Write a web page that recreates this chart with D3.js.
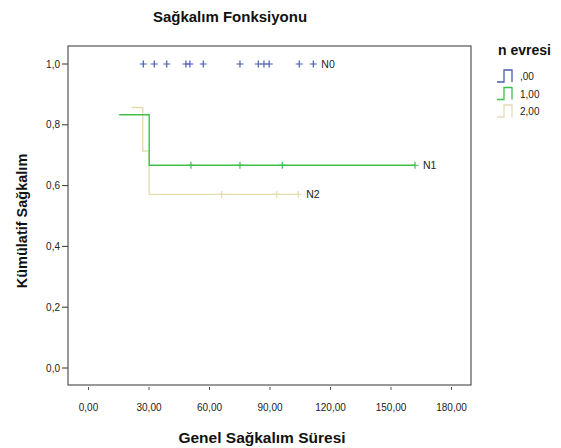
<!DOCTYPE html>
<html><head><meta charset="utf-8">
<script src="https://cdn.jsdelivr.net/npm/d3@7"></script>
<style>body{margin:0;background:#fff}svg{display:block}text{font-family:"Liberation Sans",Arial,sans-serif}</style>
</head><body><svg id="c" width="561" height="448"></svg>
<script>
const groups = [",00", "1,00", "2,00"];
const groupLabels = ["N0", "N1", "N2"];
const colors = ["#4a5cb0", "#3fbf4a", "#e6dcb4"];
// Kaplan-Meier steps (event time, survival after event)
const stepTimes = [[], [15.2, 30.1], [21.4, 26.9, 30.1]];
const stepSurv = [[], [0.833, 0.667], [0.857, 0.714, 0.571]];
const censorTimes = [
  [27.2, 32.6, 38.8, 48.3, 50.3, 56.9, 75.1, 84.2, 87.0, 89.6, 104.5, 111.5],
  [50.8, 75.1, 96.1, 161.9],
  [66.0, 93.3, 104.0]
];
const xTicks = [0, 30, 60, 90, 120, 150, 180];
const yTicks = [0, 0.2, 0.4, 0.6, 0.8, 1.0];
const fmt2 = d => d.toFixed(2).replace(".", ",");
const fmt1 = d => d.toFixed(1).replace(".", ",");

const svg = d3.select("#c");
const box = {l: 68, t: 46, r: 471, b: 385};
const x = d3.scaleLinear().domain([0, 180]).range([88.5, 451.5]);
const y = d3.scaleLinear().domain([0, 1]).range([368, 64]);

svg.append("text").attr("x", 230).attr("y", 22).attr("text-anchor", "middle")
  .attr("font-size", 15).attr("font-weight", "bold").attr("fill", "#111").text("Sağkalım Fonksiyonu");

svg.append("rect").attr("x", box.l).attr("y", box.t).attr("width", box.r - box.l).attr("height", box.b - box.t)
  .attr("fill", "none").attr("stroke", "#333").attr("stroke-width", 1);

// y axis
const ya = svg.append("g");
yTicks.forEach(v => {
  ya.append("line").attr("x1", 62).attr("x2", box.l).attr("y1", y(v)).attr("y2", y(v)).attr("stroke", "#333");
  ya.append("text").attr("x", 60).attr("y", y(v) + 3.5).attr("text-anchor", "end").attr("font-size", 10).attr("fill", "#222").text(fmt1(v));
});
// x axis
const xa = svg.append("g");
xTicks.forEach(v => {
  xa.append("line").attr("x1", x(v)).attr("x2", x(v)).attr("y1", box.b + 2).attr("y2", box.b + 5).attr("stroke", "#555");
  xa.append("text").attr("x", x(v)).attr("y", 411).attr("text-anchor", "middle").attr("font-size", 10).attr("fill", "#222").text(fmt2(v));
});

svg.append("text").attr("x", 262).attr("y", 443).attr("text-anchor", "middle")
  .attr("font-size", 15.5).attr("font-weight", "bold").attr("fill", "#111").text("Genel Sağkalım Süresi");
svg.append("text").attr("transform", "translate(27,221) rotate(-90)").attr("text-anchor", "middle")
  .attr("font-size", 14.5).attr("font-weight", "bold").attr("fill", "#111").text("Kümülatif Sağkalım");

const line = d3.line().x(d => x(d[0])).y(d => y(d[1])).curve(d3.curveStepAfter);
[2, 1, 0].forEach(g => {
  const pts = stepTimes[g].map((t, i) => [t, stepSurv[g][i]]);
  const cs = censorTimes[g];
  const last = stepSurv[g].length ? stepSurv[g][stepSurv[g].length - 1] : 1;
  const gg = svg.append("g");
  if (pts.length) {
    pts.push([d3.max(cs), last]);
    gg.append("path").attr("d", line(pts)).attr("fill", "none").attr("stroke", colors[g]).attr("stroke-width", 1.4);
  }
  cs.forEach(t => {
    let s = 1;
    stepTimes[g].forEach((st, i) => { if (st <= t) s = stepSurv[g][i]; });
    gg.append("path").attr("d", `M${x(t) - 3.5},${y(s)}h7M${x(t)},${y(s) - 3.5}v7`)
      .attr("stroke", colors[g]).attr("stroke-width", 1.2).attr("fill", "none");
    if (t === d3.max(cs)) {
      gg.append("text").attr("x", x(t) + 8).attr("y", y(s) + 4).attr("font-size", 10.5).attr("fill", "#222").text(groupLabels[g]);
    }
  });
});

// legend
const lg = svg.append("g");
lg.append("text").attr("x", 498).attr("y", 55).attr("font-size", 14).attr("font-weight", "bold").attr("fill", "#111").text("n evresi");
groups.forEach((name, i) => {
  const cy = 76 + i * 17.5;
  lg.append("path").attr("d", `M497,${cy + 6}h7v-12h8v12`).attr("fill", "none").attr("stroke", colors[i]).attr("stroke-width", 1.3);
  lg.append("text").attr("x", 520).attr("y", cy + 4).attr("font-size", 10).attr("fill", "#222").text(name);
});
</script></body></html>
